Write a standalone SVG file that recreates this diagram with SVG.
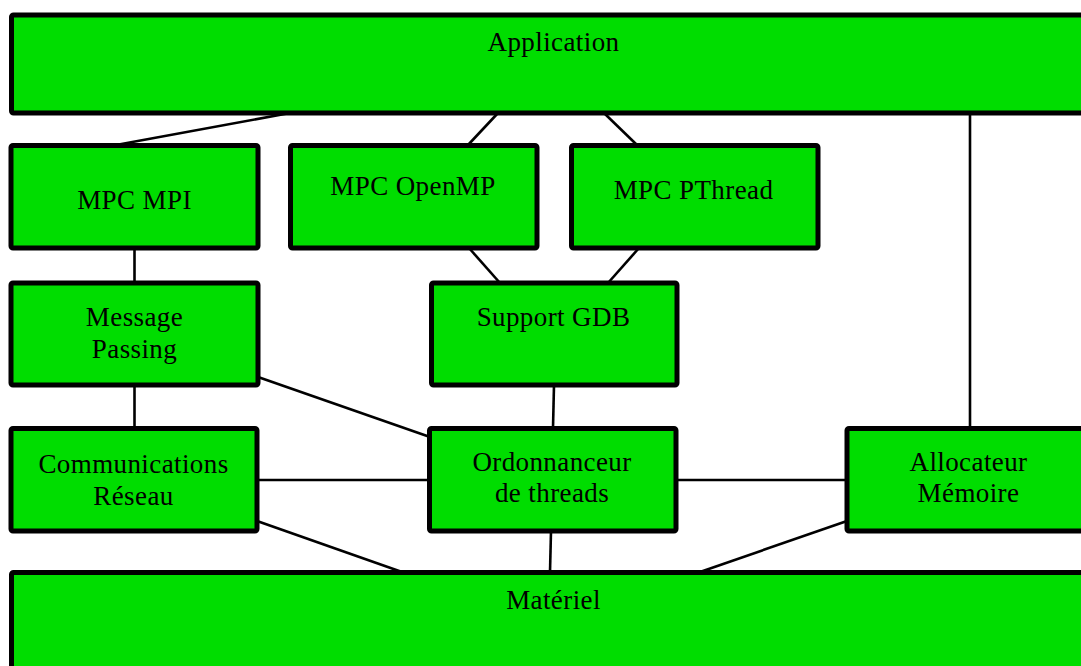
<svg xmlns="http://www.w3.org/2000/svg" width="1081" height="666" viewBox="0 0 1081 666">
<style>
.box{fill:#00dd00;stroke:#000;stroke-width:5;stroke-linejoin:round}
.edge{stroke:#000;stroke-width:2.6;fill:none}
text{font-family:"Liberation Serif","Times New Roman",serif;font-size:27px;letter-spacing:0.4px;text-anchor:middle;fill:#000}
</style>
<rect width="1081" height="666" fill="#fff"/>
<g id="connectors">
<line class="edge" x1="290" y1="113" x2="116" y2="145"/>
<line class="edge" x1="498" y1="113" x2="468" y2="145"/>
<line class="edge" x1="604" y1="113" x2="637" y2="145"/>
<line class="edge" x1="970" y1="113" x2="970" y2="428"/>
<line class="edge" x1="134.5" y1="248" x2="134.5" y2="283"/>
<line class="edge" x1="469" y1="248" x2="500" y2="283"/>
<line class="edge" x1="639" y1="248" x2="608" y2="283"/>
<line class="edge" x1="134.5" y1="385" x2="134.5" y2="428"/>
<line class="edge" x1="258" y1="377" x2="430" y2="437"/>
<line class="edge" x1="554" y1="385" x2="553" y2="428"/>
<line class="edge" x1="257" y1="480" x2="429" y2="480"/>
<line class="edge" x1="676" y1="480" x2="847" y2="480"/>
<line class="edge" x1="257" y1="521" x2="402" y2="572"/>
<line class="edge" x1="551" y1="531" x2="550" y2="572"/>
<line class="edge" x1="847" y1="521" x2="700" y2="572"/>
</g>
<g id="application"><rect class="box" x="11.5" y="15" width="1080" height="98" rx="2"/><text x="553.5" y="51">Application</text></g>
<g id="mpc-mpi"><rect class="box" x="11" y="145.5" width="247" height="102.5" rx="2"/><text x="134.5" y="209">MPC MPI</text></g>
<g id="mpc-openmp"><rect class="box" x="290.5" y="145.5" width="246.5" height="102.5" rx="2"/><text x="413" y="195">MPC OpenMP</text></g>
<g id="mpc-pthread"><rect class="box" x="571.5" y="145.5" width="246.5" height="102.5" rx="2"/><text x="693.5" y="199">MPC PThread</text></g>
<g id="message-passing"><rect class="box" x="11" y="283" width="247" height="102" rx="2"/><text x="134.5" y="326">Message</text><text x="134.5" y="358">Passing</text></g>
<g id="support-gdb"><rect class="box" x="431.5" y="283" width="245.5" height="102" rx="2"/><text x="553.5" y="326">Support GDB</text></g>
<g id="communications"><rect class="box" x="11" y="428.5" width="246" height="102.5" rx="2"/><text x="133.5" y="473">Communications</text><text x="133.5" y="505">Réseau</text></g>
<g id="ordonnanceur"><rect class="box" x="429.5" y="428.5" width="246.5" height="102.5" rx="2"/><text x="552" y="471">Ordonnanceur</text><text x="552" y="502">de threads</text></g>
<g id="allocateur"><rect class="box" x="847" y="428.5" width="250" height="102.5" rx="2"/><text x="968.5" y="471">Allocateur</text><text x="968.5" y="502">Mémoire</text></g>
<g id="materiel"><rect class="box" x="11.5" y="572.5" width="1080" height="110" rx="2"/><text x="553.5" y="609">Matériel</text></g>
</svg>
